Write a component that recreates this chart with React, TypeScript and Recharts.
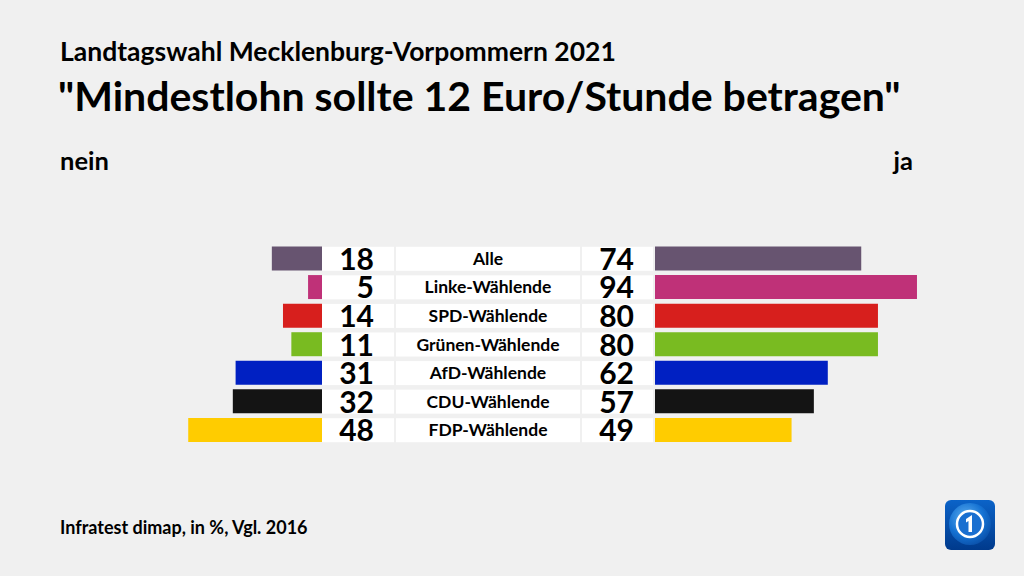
import { BarChart, Bar, XAxis, YAxis, Cell } from 'recharts';

const groups = ['Alle', 'Linke-Wählende', 'SPD-Wählende', 'Grünen-Wählende', 'AfD-Wählende', 'CDU-Wählende', 'FDP-Wählende'];
const neinValues = [18, 5, 14, 11, 31, 32, 48];
const jaValues = [74, 94, 80, 80, 62, 57, 49];
const colors = ['#675470', '#bf3178', '#d71f1d', '#79bb21', '#0020c2', '#141414', '#ffcc00'];

const data = groups.map((name, i) => ({ name, nein: neinValues[i], ja: jaValues[i] }));

const FONT = 'Lato, "Open Sans", sans-serif';
const PX_PER_UNIT = 2.787;
const TOP = 244.5;
const BOTTOM = 576 - 444.5;

const MiddleTick = (props: any) => {
  const { y, payload } = props;
  const i = payload.index;
  const row = data[i];
  return (
    <g>
      <rect x={0} y={y - 12} width={72} height={24} fill="#ffffff" />
      <rect x={74} y={y - 12} width={184} height={24} fill="#ffffff" />
      <rect x={260} y={y - 12} width={71} height={24} fill="#ffffff" />
      <text x={52} y={y + 11} textAnchor="end" fontFamily={FONT} fontWeight={700} fontSize={30} fill="#000">
        {row.nein}
      </text>
      <text x={166} y={y + 6} textAnchor="middle" fontFamily={FONT} fontWeight={700} fontSize={17.5} fill="#000">
        {row.name}
      </text>
      <text x={312} y={y + 11} textAnchor="end" fontFamily={FONT} fontWeight={700} fontSize={30} fill="#000">
        {row.ja}
      </text>
    </g>
  );
};

const Logo = () => (
  <svg width={52} height={52} style={{ position: 'absolute', left: 944, top: 499 }}>
    <defs>
      <linearGradient id="lg" x1="0" y1="0" x2="0" y2="1">
        <stop offset="0" stopColor="#0b63c8" />
        <stop offset="1" stopColor="#003a8c" />
      </linearGradient>
      <radialGradient id="rg" cx="0.4" cy="0.35" r="0.7">
        <stop offset="0" stopColor="#5fb0f0" />
        <stop offset="0.6" stopColor="#1572d3" />
        <stop offset="1" stopColor="#0a4fa8" />
      </radialGradient>
    </defs>
    <rect x={1} y={1} width={50} height={50} rx={6} fill="url(#lg)" />
    <circle cx={26} cy={25} r={21} fill="url(#rg)" />
    <circle cx={26} cy={25} r={13} fill="#1a6fd0" stroke="#ffffff" strokeWidth={2.5} />
    <path d="M22 20 L28 16 L28 33 L24.5 33 L24.5 22 L22 23.5 Z" fill="#ffffff" />
  </svg>
);

export default function App() {
  return (
    <div style={{ position: 'absolute', left: 0, top: 0, width: 1024, height: 576, background: '#f0f0f0', overflow: 'hidden' }}>
      <svg width={1024} height={576} style={{ position: 'absolute', left: 0, top: 0 }}>
        <text x={60} y={61} fontFamily={FONT} fontWeight={700} fontSize={26.5} fill="#000">
          Landtagswahl Mecklenburg-Vorpommern 2021
        </text>
        <text x={58} y={111} fontFamily={FONT} fontWeight={700} fontSize={41} fill="#000">
          "Mindestlohn sollte 12 Euro/Stunde betragen"
        </text>
        <text x={60} y={170} fontFamily={FONT} fontWeight={700} fontSize={25.5} fill="#000">
          nein
        </text>
        <text x={913} y={170} textAnchor="end" fontFamily={FONT} fontWeight={700} fontSize={25.5} fill="#000">
          ja
        </text>
        <text x={60} y={534} fontFamily={FONT} fontWeight={700} fontSize={18} fill="#000">
          Infratest dimap, in %, Vgl. 2016
        </text>
      </svg>
      <div style={{ position: 'absolute', left: 0, top: 0 }}>
        <BarChart width={322} height={576} data={data} layout="vertical" margin={{ top: TOP, bottom: BOTTOM, left: 0, right: 0 }}>
          <XAxis type="number" domain={[0, 322 / PX_PER_UNIT]} reversed hide />
          <YAxis type="category" dataKey="name" hide />
          <Bar dataKey="nein" barSize={24} isAnimationActive={false}>
            {data.map((d, i) => (
              <Cell key={d.name} fill={colors[i]} />
            ))}
          </Bar>
        </BarChart>
      </div>
      <div style={{ position: 'absolute', left: 322, top: 0 }}>
        <BarChart width={702} height={576} data={data} layout="vertical" margin={{ top: TOP, bottom: BOTTOM, left: 0, right: 0 }}>
          <XAxis type="number" domain={[0, 369 / PX_PER_UNIT]} hide />
          <YAxis type="category" dataKey="name" width={333} axisLine={false} tickLine={false} tick={<MiddleTick />} interval={0} />
          <Bar dataKey="ja" barSize={24} isAnimationActive={false}>
            {data.map((d, i) => (
              <Cell key={d.name} fill={colors[i]} />
            ))}
          </Bar>
        </BarChart>
      </div>
      <Logo />
    </div>
  );
}
